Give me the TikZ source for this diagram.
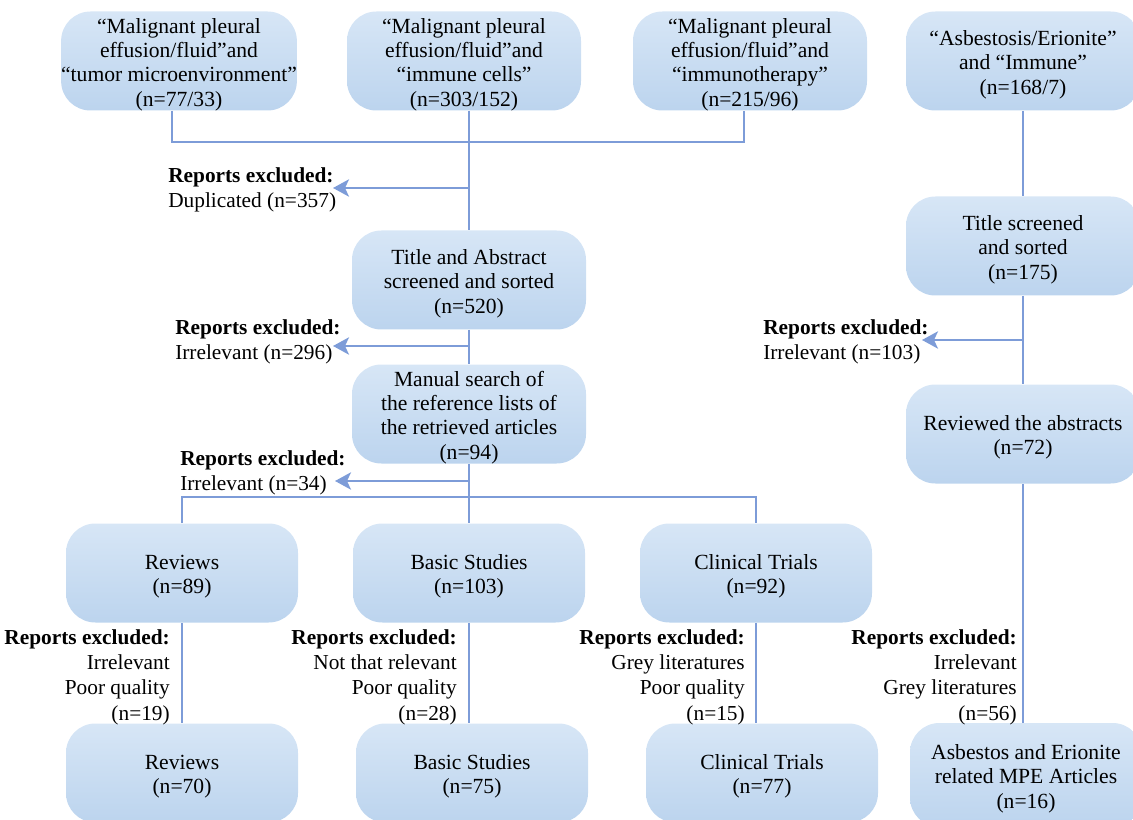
\documentclass[tikz,border=0pt]{standalone}
\usepackage{fontspec}
\setmainfont{Liberation Serif}
\usetikzlibrary{arrows.meta}
\definecolor{ln}{RGB}{125,156,216}
\definecolor{bxtop}{RGB}{215,230,246}
\definecolor{bxbot}{RGB}{188,212,238}
\newcommand\boxtxt[1]{\raisebox{-3pt}[\height][\depth]{\begin{tabular}{@{}c@{}}#1\end{tabular}}}
\begin{document}
\begin{tikzpicture}[x=0.75pt,y=-0.75pt,
  box/.style={rounded corners=22pt, top color=bxtop, bottom color=bxbot, draw=none,
    minimum width=175.5pt, minimum height=74.25pt, inner sep=0pt,
    font=\fontsize{16.2}{18.2}\selectfont},
  conn/.style={draw=ln, line width=1.5pt},
  arr/.style={conn, -{Stealth[length=12pt,width=13pt,inset=3pt]}},
  excl/.style={inner sep=0pt, font=\fontsize{16}{19}\selectfont}]
\useasboundingbox (0,0) rectangle (1133,820);
\clip (0,0) rectangle (1133,820);
% top row
\node[box] (s1) at (179,61) {\boxtxt{“Malignant pleural\\effusion/fluid”and\\“tumor microenvironment”\\(n=77/33)}};
\node[box] (s2) at (464,61) {\boxtxt{“Malignant pleural\\effusion/fluid”and\\“immune cells”\\(n=303/152)}};
\node[box] (s3) at (750,61) {\boxtxt{“Malignant pleural\\effusion/fluid”and\\“immunotherapy”\\(n=215/96)}};
\node[box] (s4) at (1023,61) {\boxtxt{“Asbestosis/Erionite”\\and “Immune”\\(n=168/7)}};
% middle column
\node[box] (ta) at (469,280) {\boxtxt{Title and Abstract\\screened and sorted\\(n=520)}};
\node[box] (ms) at (469,414) {\boxtxt{Manual search of\\the reference lists of\\the retrieved articles\\(n=94)}};
% right column
\node[box] (ts) at (1023,246) {\boxtxt{Title screened\\and sorted\\(n=175)}};
\node[box] (ra) at (1023,434) {\boxtxt{Reviewed the abstracts\\(n=72)}};
% categories
\node[box, minimum width=174pt] (rv) at (182,573) {\boxtxt{Reviews\\(n=89)}};
\node[box, minimum width=174pt] (bs) at (469,573) {\boxtxt{Basic Studies\\(n=103)}};
\node[box, minimum width=174pt] (ct) at (756,573) {\boxtxt{Clinical Trials\\(n=92)}};
% finals
\node[box, minimum width=174pt] (rv2) at (182,773) {\boxtxt{Reviews\\(n=70)}};
\node[box, minimum width=174pt] (bs2) at (472,773) {\boxtxt{Basic Studies\\(n=75)}};
\node[box, minimum width=174pt] (ct2) at (762,773) {\boxtxt{Clinical Trials\\(n=77)}};
\node[box, minimum width=174pt, minimum height=78pt] (ae) at (1026,775) {\boxtxt{Asbestos and Erionite\\related MPE Articles\\(n=16)}};
% coordinates
\coordinate (j1l) at (172,142);
\coordinate (j1m) at (469,142);
\coordinate (j1r) at (744,142);
\coordinate (d1) at (469,188);
\coordinate (e1) at (333,188);
\coordinate (d2) at (469,346);
\coordinate (e2) at (333,346);
\coordinate (d3) at (469,481);
\coordinate (e3) at (335,481);
\coordinate (h3l) at (182,497);
\coordinate (h3m) at (469,497);
\coordinate (h3r) at (756,497);
\coordinate (d4) at (1023,340);
\coordinate (e4) at (922,340);
% connectors
\draw[conn] (s1.south -| j1l) -- (j1l) -- (j1r) -- (s3.south -| j1r);
\draw[conn] (s2.south -| j1m) -- (ta.north);
\draw[arr] (d1) -- (e1);
\draw[conn] (ta.south) -- (ms.north);
\draw[arr] (d2) -- (e2);
\draw[conn] (ms.south) -- (h3m);
\draw[arr] (d3) -- (e3);
\draw[conn] (rv.north -| h3l) -- (h3l) -- (h3r) -- (ct.north -| h3r);
\draw[conn] (h3m) -- (bs.north);
\draw[conn] (s4.south) -- (ts.north);
\draw[conn] (ts.south) -- (ra.north);
\draw[arr] (d4) -- (e4);
\draw[conn] (ra.south) -- (ra.south |- ae.north);
\draw[conn] (rv.south) -- (rv.south |- rv2.north);
\draw[conn] (bs.south) -- (bs.south |- bs2.north);
\draw[conn] (ct.south) -- (ct.south |- ct2.north);
% excluded labels
\node[excl, anchor=west, align=left] (x1) at (168,190) {\textbf{Reports excluded:}\\Duplicated (n=357)};
\node[excl, anchor=west, align=left] (x2) at (175,342) {\textbf{Reports excluded:}\\Irrelevant (n=296)};
\node[excl, anchor=west, align=left] (x3) at (180,473) {\textbf{Reports excluded:}\\Irrelevant (n=34)};
\node[excl, anchor=west, align=left] (x4) at (763,342) {\textbf{Reports excluded:}\\Irrelevant (n=103)};
\node[excl, anchor=east, align=right] (x5) at (170,677) {\textbf{Reports excluded:}\\Irrelevant\\Poor quality\\(n=19)};
\node[excl, anchor=east, align=right] (x6) at (457,677) {\textbf{Reports excluded:}\\Not that relevant\\Poor quality\\(n=28)};
\node[excl, anchor=east, align=right] (x7) at (745,677) {\textbf{Reports excluded:}\\Grey literatures\\Poor quality\\(n=15)};
\node[excl, anchor=east, align=right] (x8) at (1017,677) {\textbf{Reports excluded:}\\Irrelevant\\Grey literatures\\(n=56)};
\end{tikzpicture}
\end{document}
